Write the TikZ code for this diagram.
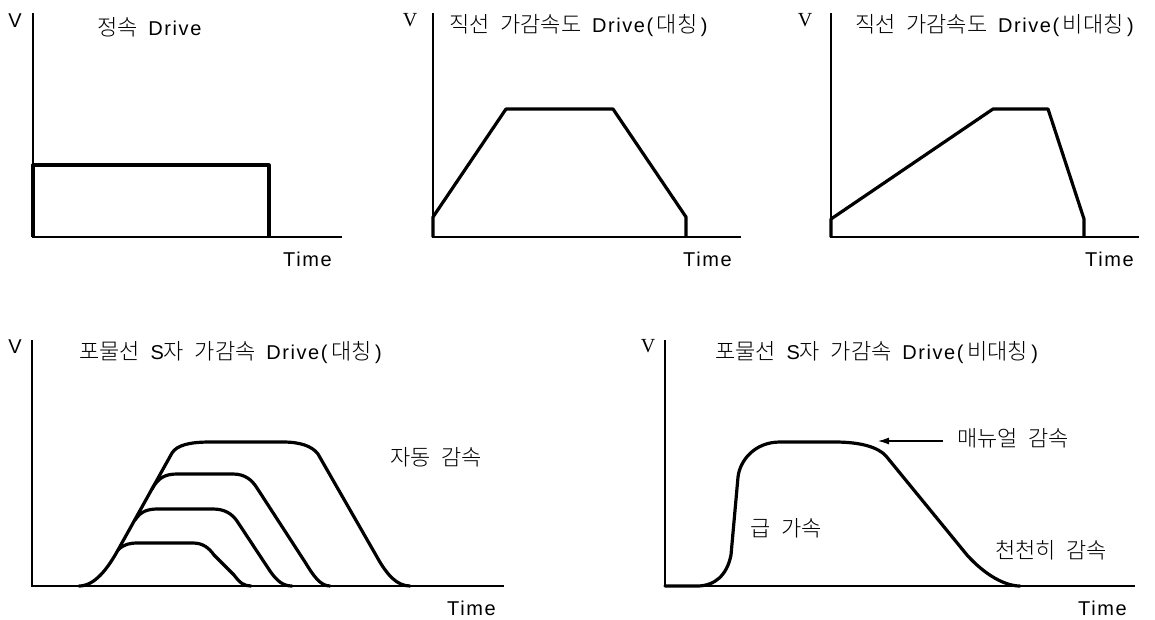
\documentclass[tikz,border=0pt]{standalone}
\usepackage{fontspec}
\setmainfont{Noto Sans CJK KR}[UprightFont={* Light}, WordSpace=2.2]
\newfontfamily\lat{Liberation Sans}[LetterSpace=8]
\newfontfamily\serifV{Liberation Serif}
\usetikzlibrary{arrows.meta}
\newcommand{\lt}[1]{{\lat\fontsize{20}{22}\selectfont #1}}
\newcommand{\pr}[1]{\lt{(}\hspace{3.5pt}#1\hspace{3.5pt}\lt{)}}
\begin{document}
\begin{tikzpicture}[x=1pt,y=-1pt,
  axis/.style={line width=1.8pt},
  curve/.style={line width=3.2pt, line join=round, line cap=round},
  lbl/.style={font=\fontsize{22}{24}\selectfont, anchor=west, inner sep=0pt},
  vlbl/.style={font=\lat\fontsize{20}{22}\selectfont, anchor=center, inner sep=0pt},
  vser/.style={font=\serifV\fontsize{20}{20}\selectfont, anchor=center, inner sep=0pt}]
\useasboundingbox (0,0) rectangle (1155,619);
\fill[white] (0,0) rectangle (1155,619);

% ---------- Graph 1 ----------
\coordinate (a1t) at (33,13); \coordinate (a1o) at (33,237); \coordinate (a1r) at (342,237);
\draw[axis] (a1t) -- (a1o) -- (a1r);
\node[vlbl] (v1) at (15,21) {V};
\node[lbl] (t1) at (97,27) {정속 \lt{Drive}};
\node[lbl] (x1) at (283,259) {\lt{Time}};
\draw[curve, line cap=butt] (33,237) -- (33,165) -- (269,165) -- (269,237);

% ---------- Graph 2 ----------
\coordinate (a2t) at (433,13); \coordinate (a2o) at (433,237); \coordinate (a2r) at (741,237);
\draw[axis] (a2t) -- (a2o) -- (a2r);
\node[vser] (v2) at (410,20) {V};
\node[lbl] (t2) at (449,26) {직선 가감속도 \lt{Drive}\pr{대칭}};
\node[lbl] (x2) at (683,259) {\lt{Time}};
\draw[curve, line cap=butt] (433,237) -- (433,217) -- (506,109) -- (613,109) -- (686,217) -- (686,237);

% ---------- Graph 3 ----------
\coordinate (a3t) at (831,13); \coordinate (a3o) at (831,237); \coordinate (a3r) at (1139,237);
\draw[axis] (a3t) -- (a3o) -- (a3r);
\node[vser] (v3) at (805,20) {V};
\node[lbl] (t3) at (855,26) {직선 가감속도 \lt{Drive}\pr{비대칭}};
\node[lbl] (x3) at (1085,259) {\lt{Time}};
\draw[curve, line cap=butt] (831,237) -- (831,219) -- (993,109) -- (1048,109) -- (1084,219) -- (1084,237);

% ---------- Graph 4 ----------
\coordinate (a4t) at (32,340); \coordinate (a4o) at (32,586); \coordinate (a4r) at (504,586);
\draw[axis] (a4t) -- (a4o) -- (a4r);
\node[vlbl] (v4) at (15,347) {V};
\node[lbl] (t4) at (79,353) {포물선 \lt{S}자 가감속 \lt{Drive}\pr{대칭}};
\node[lbl] (auto) at (390,457) {자동 감속};
\node[lbl] (x4) at (447,608) {\lt{Time}};
% largest
\draw[curve] (79,586) .. controls (95,586) and (108,568) .. (118,550) -- (172,453)
  .. controls (177,445) and (190,442) .. (210,442) -- (283,442)
  .. controls (300,442) and (312,446) .. (318,454) -- (377,557)
  .. controls (387,575) and (397,586) .. (410,586);
% second
\draw[curve] (152,489) .. controls (158,478) and (165,474) .. (177,474) -- (233,474)
  .. controls (245,474) and (252,480) .. (257,488) -- (305,562)
  .. controls (313,575) and (320,586) .. (330,586);
% third
\draw[curve] (135,520) .. controls (141,511) and (148,509) .. (158,509) -- (213,509)
  .. controls (225,509) and (232,514) .. (237,521) -- (270,571)
  .. controls (277,581) and (283,586) .. (292,586);
% fourth
\draw[curve] (118,550) .. controls (124,544) and (130,543) .. (138,543) -- (193,543)
  .. controls (203,543) and (209,548) .. (214,555) -- (234,575)
  .. controls (240,583) and (244,586) .. (251,586);

% ---------- Graph 5 ----------
\coordinate (a5t) at (665,340); \coordinate (a5o) at (665,586); \coordinate (a5r) at (1135,586);
\draw[axis] (a5t) -- (a5o) -- (a5r);
\node[vser] (v5) at (648,346) {V};
\node[lbl] (t5) at (715,353) {포물선 \lt{S}자 가감속 \lt{Drive}\pr{비대칭}};
\node[lbl] (manual) at (957,438) {매뉴얼 감속};
\node[lbl] (fast) at (750,528) {급 가속};
\node[lbl] (slow) at (995,550) {천천히 감속};
\node[lbl] (x5) at (1078,608) {\lt{Time}};
\draw[curve] (665,586) -- (697,586) .. controls (715,586) and (727,575) .. (731,555) -- (738,477)
  .. controls (740,460) and (755,442) .. (780,442) -- (835,442)
  .. controls (860,442) and (878,447) .. (886,456) -- (967,555)
  .. controls (985,575) and (1005,586) .. (1020,586);
\coordinate (mtip) at (878,441);
\draw[line width=1.2pt, -{Latex[length=11pt,width=7pt]}] ([xshift=-14pt]manual.west |- mtip) -- (mtip);
\end{tikzpicture}
\end{document}
